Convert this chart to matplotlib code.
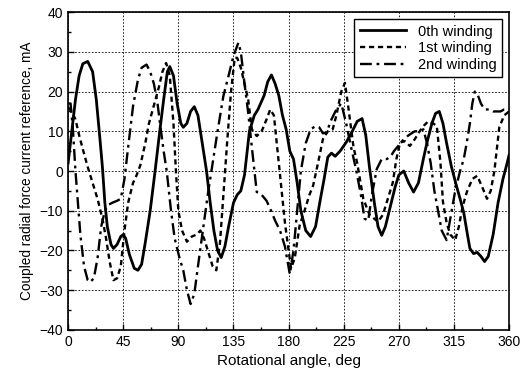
import numpy as np
import matplotlib.pyplot as plt
from matplotlib.ticker import MultipleLocator

plt.rcParams['font.family'] = ['Liberation Sans', 'DejaVu Sans']

# Values (angle in deg, current in mA)
angle_0th = [0, 3, 6, 9, 12, 16, 20, 23, 26, 28, 30, 32, 35, 37, 40, 43, 45, 47, 50, 54,
             57, 60, 63, 67, 71, 75, 78, 81, 83, 86, 89, 92, 94, 97, 100, 103, 106, 109,
             113, 116, 119, 122, 125, 128, 131, 135, 138, 141, 144, 148, 152, 155, 160,
             163, 166, 169, 172, 175, 178, 181, 184, 187, 190, 194, 198, 202, 206, 209,
             212, 215, 218, 222, 227, 232, 236, 240, 243, 246, 250, 253, 256, 259, 263,
             267, 270, 274, 278, 282, 286, 290, 293, 297, 300, 303, 306, 309, 313, 317,
             320, 323, 326, 328, 331, 334, 337, 340, 343, 347, 351, 355, 358, 360]
winding_0th = [2, 10, 18, 24, 27, 27.6, 25, 18, 8, 1, -8, -14, -18.5, -19.5, -18.5, -16.5,
               -16, -17, -21, -24.5, -25, -23.5, -18, -10, 0, 10.5, 18, 25, 26.3, 24, 17,
               12, 11, 12, 15, 16.2, 14, 8, 0, -8, -15, -20, -21.8, -19, -14, -8, -6, -5,
               -1, 10, 14, 15.5, 19, 22.5, 24.2, 22, 19, 14, 10.5, 5, 3, -3, -10, -15,
               -16.5, -14, -7, -2, 3.5, 4.5, 3.7, 5, 7.2, 10, 12.5, 13.2, 9, 1, -8, -14,
               -16.2, -14, -9, -4, -1, 0, -3, -5.3, -3, 3, 7.2, 12, 14.5, 15, 12, 7, 1,
               -3.7, -7, -10.5, -16, -19.5, -20.8, -20.5, -21.5, -22.8, -21.5, -16, -8,
               -2, 1.5, 4]

angle_1st = [0, 3, 6, 9, 12, 16, 20, 24, 28, 31, 34, 37, 40, 43, 46, 49, 53, 56, 59, 63,
             66, 70, 74, 77, 80, 83, 86, 88, 90, 93, 97, 101, 105, 108, 111, 114, 118,
             121, 124, 127, 130, 133, 136, 138, 141, 144, 147, 150, 154, 158, 162, 165,
             168, 171, 174, 177, 180, 182, 185, 189, 193, 197, 200, 204, 208, 212, 216,
             219, 223, 226, 229, 233, 236, 241, 246, 253, 257, 261, 265, 268, 271, 275,
             279, 283, 287, 290, 294, 298, 301, 304, 306, 309, 312, 316, 319, 322, 325.5,
             330, 334, 338, 342, 345, 348, 352, 356, 360]
winding_1st = [16, 15, 13, 9, 5.5, 1, -3, -7, -12, -17, -23, -27.5, -27, -24, -15, -8, -3,
               -1, 1.5, 7, 12, 16.5, 21, 25, 27.2, 24, 12, 0, -10, -15, -17.8, -16.5, -16,
               -15, -17, -20, -24, -25, -18, -5, 8, 20, 28.5, 28.5, 26, 22, 18, 10.5, 8.8,
               10, 13, 15.5, 14, 5, -4, -13, -20, -24.5, -22, -13.7, -10, -6, -3.7, 2, 8,
               10, 10.5, 14, 20, 22.2, 15.5, 6, 2, -7, -11, -12.8, -11, -7, -3, 3, 7.2,
               7.5, 6.3, 8, 10, 11.3, 12.5, 12, 11.3, 2, -7.8, -13, -16, -17.4, -14, -9,
               -5.3, -2, -1.2, -4, -7, -5, 0, 11, 14, 15]

angle_2nd = [0, 2, 4, 6, 8, 10, 13, 16, 18, 21, 24, 27, 30, 33, 36, 40, 43, 46, 49, 53,
             57, 60, 64, 67, 70, 73, 75, 78, 80.5, 84, 87, 91, 94, 97, 100, 103, 106, 110,
             114, 118, 122, 126.7, 131, 135, 139, 141, 144, 147, 150, 154, 158, 162, 165,
             169, 173, 177, 181, 184, 187, 190, 194, 198, 202, 205, 208, 211, 215, 219,
             223, 227, 231, 235, 239, 242, 245, 248, 252, 256, 260, 263, 266, 270, 274,
             278, 283, 287, 290, 293, 296, 299, 302, 305, 309, 312, 316, 320, 323, 325.5,
             328, 330, 332, 334, 337, 340, 344, 347, 350, 353, 356, 358, 360]
winding_2nd = [17, 17, 10, 0, -8, -16, -24, -27.5, -28, -27, -22, -14, -10, -8.5, -8, -7.5,
               -7, -2, 6, 16.3, 23, 26, 26.8, 25, 22, 17, 12, 5, 0, -10, -17, -22, -25,
               -30, -33.5, -31, -24, -15, -6, 2, 10, 18.8, 24, 29, 32.3, 30, 22, 14.7, 6,
               -5.3, -6, -7.5, -9.5, -12.5, -15, -19, -26, -20, -10, 0, 7, 10.5, 11.3, 11,
               9.5, 9.7, 13, 15.5, 17, 12, 6, 0.5, -6, -12, -12.5, -6, 0.5, 3, 3, 3.5, 5,
               6.5, 8, 9, 10, 10, 10.5, 7, 2, -5, -10, -15, -17.4, -12, -5, 0, 3, 7.2, 12,
               17, 20, 19.5, 17, 15.5, 15.5, 15, 15, 15, 15.5, 15.5, 15]

series_labels = ["0th winding", "1st winding", "2nd winding"]

fig = plt.figure(figsize=(5.2, 3.8), dpi=100)
ax = fig.add_axes([0.131, 0.132, 0.848, 0.836])

ax.plot(angle_0th, winding_0th, color='black', lw=2.0, ls='-', label=series_labels[0])
ax.plot(angle_1st, winding_1st, color='black', lw=1.7, ls=(0, (2.2, 1.6)), label=series_labels[1])
ax.plot(angle_2nd, winding_2nd, color='black', lw=1.7, ls=(0, (5, 2, 1.2, 2)), label=series_labels[2])

ax.set_xlim(0, 360)
ax.set_ylim(-40, 40)
ax.xaxis.set_major_locator(MultipleLocator(45))
ax.xaxis.set_minor_locator(MultipleLocator(22.5))
ax.yaxis.set_major_locator(MultipleLocator(10))
ax.yaxis.set_minor_locator(MultipleLocator(5))
ax.tick_params(which='both', direction='in', top=False, right=False, labelsize=10)
ax.tick_params(which='major', length=4, width=1)
ax.tick_params(which='minor', length=2.5, width=1)
ax.grid(True, which='major', color='black', lw=0.6, ls=(0, (2, 2)))
for s in ax.spines.values():
    s.set_linewidth(1.2)

ax.set_xlabel("Rotational angle, deg", fontsize=11)
ax.set_ylabel("Coupled radial force current reference, mA", fontsize=9.8)

leg = ax.legend(loc='upper right', fontsize=10.5, handlelength=3.2, fancybox=False,
                framealpha=1, edgecolor='black', borderpad=0.35, labelspacing=0.2)
leg.get_frame().set_linewidth(1.0)

fig.savefig("out.png", dpi=100)
